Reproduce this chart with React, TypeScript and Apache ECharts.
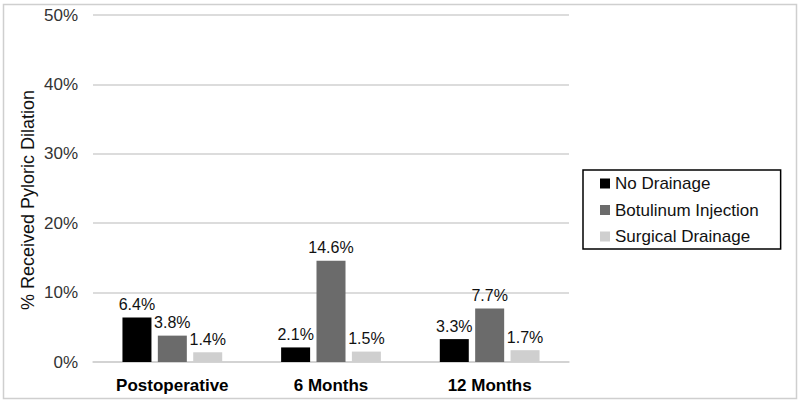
import React, { useEffect, useRef } from "react";
import * as echarts from "echarts";

const categories = ["Postoperative", "6 Months", "12 Months"];
const seriesNames = ["No Drainage", "Botulinum Injection", "Surgical Drainage"];
const noDrainage = [6.4, 2.1, 3.3];
const botulinum = [3.8, 14.6, 7.7];
const surgical = [1.4, 1.5, 1.7];
const yTicks = [0, 10, 20, 30, 40, 50];
const yTitle = "% Received Pyloric Dilation";
const colors = ["#000000", "#6b6b6b", "#cfcfcf"];

export default function App() {
  const ref = useRef<HTMLDivElement>(null);
  useEffect(() => {
    if (!ref.current) return;
    const chart = echarts.init(ref.current, null, { renderer: "svg" });
    const values = [noDrainage, botulinum, surgical];
    const font = "Liberation Sans, Arial, sans-serif";
    chart.setOption({
      animation: false,
      backgroundColor: "#ffffff",
      textStyle: { fontFamily: font },
      graphic: [
        {
          type: "rect",
          shape: { x: 3.5, y: 4.5, width: 793, height: 394 },
          style: { fill: "none", stroke: "#cfcfcf", lineWidth: 1.5 },
          silent: true,
        },
        {
          type: "text",
          x: 28,
          y: 200,
          rotation: Math.PI / 2,
          style: {
            text: yTitle,
            fontSize: 18,
            fill: "#111",
            fontFamily: font,
            align: "center",
            verticalAlign: "middle",
          },
          silent: true,
        },
      ],
      grid: { left: 93, right: 231, top: 15, bottom: 41 },
      legend: {
        orient: "vertical",
        left: 583,
        top: 170,
        data: seriesNames,
        icon: "rect",
        itemWidth: 10,
        itemHeight: 10,
        itemGap: 9.5,
        padding: [5, 22, 4, 17],
        borderColor: "#000",
        borderWidth: 1.5,
        textStyle: { fontSize: 17, color: "#111", fontFamily: font },
      },
      xAxis: {
        type: "category",
        data: categories,
        axisLine: { show: true, lineStyle: { color: "#d0d0d0", width: 1.5 } },
        axisTick: { show: false },
        axisLabel: {
          fontSize: 17,
          fontWeight: "bold",
          color: "#000",
          margin: 15,
          fontFamily: font,
        },
      },
      yAxis: {
        type: "value",
        min: yTicks[0],
        max: yTicks[yTicks.length - 1],
        interval: 10,
        axisLine: { show: false },
        axisTick: { show: false },
        axisLabel: {
          fontSize: 17,
          color: "#333",
          margin: 15,
          formatter: (v: number) => v + "%",
          fontFamily: font,
        },
        splitLine: { lineStyle: { color: "#d0d0d0", width: 1.5 } },
      },
      series: seriesNames.map((name, i) => ({
        name,
        type: "bar",
        data: values[i],
        barWidth: 29,
        barGap: "22%",
        itemStyle: { color: colors[i] },
        label: {
          show: true,
          position: "top",
          distance: 5,
          fontSize: 16,
          color: "#111",
          fontFamily: font,
          formatter: (p: any) => p.value.toFixed(1) + "%",
        },
      })),
    });
    return () => chart.dispose();
  }, []);
  return (
    <div
      ref={ref}
      style={{ position: "fixed", left: 0, top: 0, width: 800, height: 403 }}
    />
  );
}
